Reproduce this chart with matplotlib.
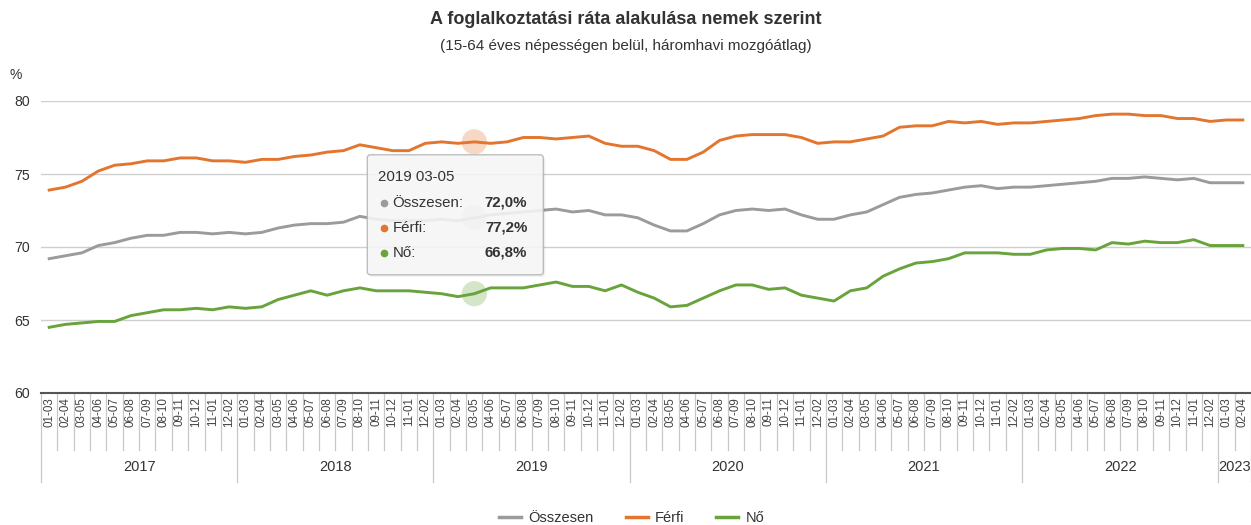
import numpy as np
import matplotlib.pyplot as plt
import matplotlib.transforms as mtransforms
from matplotlib.patches import FancyBboxPatch
from matplotlib.lines import Line2D

plt.rcParams['font.family'] = ['Liberation Sans', 'DejaVu Sans']

# categories
years = ['2017', '2018', '2019', '2020', '2021', '2022', '2023']
periods_per_year = [12, 12, 12, 12, 12, 12, 2]
periods = ['01-03', '02-04', '03-05', '04-06', '05-07', '06-08',
           '07-09', '08-10', '09-11', '10-12', '11-01', '12-02']

# employment rate, %
osszesen = [69.2, 69.4, 69.6, 70.1, 70.3, 70.6, 70.8, 70.8, 71.0, 71.0, 70.9, 71.0,
            70.9, 71.0, 71.3, 71.5, 71.6, 71.6, 71.7, 72.1, 71.9, 71.8, 71.8, 71.8,
            71.9, 71.8, 72.0, 72.2, 72.3, 72.4, 72.5, 72.6, 72.4, 72.5, 72.2, 72.2,
            72.0, 71.5, 71.1, 71.1, 71.6, 72.2, 72.5, 72.6, 72.5, 72.6, 72.2, 71.9,
            71.9, 72.2, 72.4, 72.9, 73.4, 73.6, 73.7, 73.9, 74.1, 74.2, 74.0, 74.1,
            74.1, 74.2, 74.3, 74.4, 74.5, 74.7, 74.7, 74.8, 74.7, 74.6, 74.7, 74.4,
            74.4, 74.4]
ferfi = [73.9, 74.1, 74.5, 75.2, 75.6, 75.7, 75.9, 75.9, 76.1, 76.1, 75.9, 75.9,
         75.8, 76.0, 76.0, 76.2, 76.3, 76.5, 76.6, 77.0, 76.8, 76.6, 76.6, 77.1,
         77.2, 77.1, 77.2, 77.1, 77.2, 77.5, 77.5, 77.4, 77.5, 77.6, 77.1, 76.9,
         76.9, 76.6, 76.0, 76.0, 76.5, 77.3, 77.6, 77.7, 77.7, 77.7, 77.5, 77.1,
         77.2, 77.2, 77.4, 77.6, 78.2, 78.3, 78.3, 78.6, 78.5, 78.6, 78.4, 78.5,
         78.5, 78.6, 78.7, 78.8, 79.0, 79.1, 79.1, 79.0, 79.0, 78.8, 78.8, 78.6,
         78.7, 78.7]
no = [64.5, 64.7, 64.8, 64.9, 64.9, 65.3, 65.5, 65.7, 65.7, 65.8, 65.7, 65.9,
      65.8, 65.9, 66.4, 66.7, 67.0, 66.7, 67.0, 67.2, 67.0, 67.0, 67.0, 66.9,
      66.8, 66.6, 66.8, 67.2, 67.2, 67.2, 67.4, 67.6, 67.3, 67.3, 67.0, 67.4,
      66.9, 66.5, 65.9, 66.0, 66.5, 67.0, 67.4, 67.4, 67.1, 67.2, 66.7, 66.5,
      66.3, 67.0, 67.2, 68.0, 68.5, 68.9, 69.0, 69.2, 69.6, 69.6, 69.6, 69.5,
      69.5, 69.8, 69.9, 69.9, 69.8, 70.3, 70.2, 70.4, 70.3, 70.3, 70.5, 70.1,
      70.1, 70.1]

series = [('Összesen', osszesen, '#9b9b9b'),
          ('Férfi', ferfi, '#e2762e'),
          ('Nő', no, '#68a33b')]
hover = 26  # 2019 03-05

labels = []
year_of = []
for y, n in zip(years, periods_per_year):
    labels += periods[:n]
    year_of += [y] * n
x = np.arange(len(labels))

W, H = 1251, 525
fig = plt.figure(figsize=(W / 100, H / 100), dpi=100)
ax = fig.add_axes([41 / W, 1 - 393 / H, 1210 / W, 292 / H])

for name, vals, col in series:
    ax.plot(x, vals, color=col, lw=2.1, zorder=3, solid_joinstyle='round')
    ax.scatter([hover], [vals[hover]], s=330, color=col, alpha=0.28,
               edgecolors='none', zorder=2)

ax.set_xlim(-0.5, len(labels) - 0.5)
ax.set_ylim(60, 80)
ax.set_yticks([60, 65, 70, 75, 80])
ax.yaxis.grid(True, color='#cfcfcf', lw=1)
ax.set_axisbelow(True)
for s in ['top', 'right', 'left']:
    ax.spines[s].set_visible(False)
ax.spines['bottom'].set_color('#555555')
ax.spines['bottom'].set_linewidth(1.5)
ax.spines['bottom'].set_zorder(4)
ax.tick_params(axis='y', length=0, pad=8, labelsize=10.2, labelcolor='#333333')
ax.set_xticks(x)
ax.set_xticklabels(labels, rotation=90, fontsize=8.4, color='#444444')
ax.tick_params(axis='x', length=0, pad=3)

# category separators and year groups
trans = mtransforms.blended_transform_factory(ax.transData, ax.transAxes)
starts = np.cumsum([0] + periods_per_year)
for k in range(len(labels) + 1):
    xe = k - 0.5
    low = -0.305 if k in starts else -0.195
    ax.plot([xe, xe], [0, low], transform=trans, color='#c8c8c8', lw=0.9,
            clip_on=False, zorder=1)
for i, y in enumerate(years):
    mid = (starts[i] + starts[i + 1] - 1) / 2
    ax.text(mid, -0.253, y, transform=trans, ha='center', va='center',
            fontsize=10.5, color='#333333', clip_on=False)

# titles
fig.text(0.5, 1 - 20 / H, 'A foglalkoztatási ráta alakulása nemek szerint',
         ha='center', va='center', fontsize=13, fontweight='bold', color='#333333')
fig.text(0.5, 1 - 46 / H, '(15-64 éves népességen belül, háromhavi mozgóátlag)',
         ha='center', va='center', fontsize=11, color='#333333')
fig.text(10 / W, 1 - 75 / H, '%', ha='left', va='center', fontsize=10, color='#333333')

# legend
handles = [Line2D([], [], color=c, lw=2.5) for _, _, c in series]
fig.legend(handles, [n for n, _, _ in series], loc='center',
           bbox_to_anchor=(0.505, 1 - 518 / H), ncol=3, frameon=False,
           fontsize=10.5, handlelength=1.5, handletextpad=0.5, columnspacing=2.2,
           labelcolor='#333333')

# tooltip
ax_px, ay_px = ax.transData.transform((hover, osszesen[hover]))
ident = mtransforms.IdentityTransform()
shadow = FancyBboxPatch((ax_px - 105, ay_px - 59), 176, 120,
                        boxstyle='round,pad=0,rounding_size=3', transform=ident,
                        facecolor='#000000', alpha=0.06, edgecolor='none',
                        zorder=9, clip_on=False)
box = FancyBboxPatch((ax_px - 107, ay_px - 57), 176, 120,
                     boxstyle='round,pad=0,rounding_size=3', transform=ident,
                     facecolor='#f7f7f7', alpha=0.88, edgecolor='#b5b5b5', lw=1,
                     zorder=10, clip_on=False)
ax.add_patch(shadow)
ax.add_patch(box)
ax.text(ax_px - 96, ay_px + 41, f'{year_of[hover]} {labels[hover]}', transform=ident,
        ha='left', va='center', fontsize=10.8, color='#333333', zorder=11)
for j, (name, vals, col) in enumerate(series):
    yy = ay_px + 15 - 25 * j
    ax.plot([ax_px - 90], [yy], marker='o', ms=4.5, color=col, transform=ident,
            zorder=11, clip_on=False)
    ax.text(ax_px - 82, yy, name + ':', transform=ident, ha='left', va='center',
            fontsize=10.8, color='#333333', zorder=11)
    ax.text(ax_px + 53, yy, f'{vals[hover]:.1f}'.replace('.', ',') + '%',
            transform=ident, ha='right', va='center', fontsize=10.8,
            fontweight='bold', color='#333333', zorder=11)

fig.savefig('out.png', dpi=100)
